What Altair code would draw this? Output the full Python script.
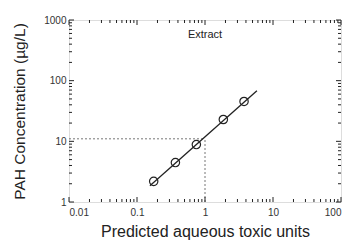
import altair as alt
import pandas as pd

# Data
toxic_units = [0.176, 0.367, 0.746, 1.86, 3.75]
pah_conc = [2.19, 4.47, 8.85, 22.9, 45.4]

fit_x = [0.155, 5.8]
fit_y = [1.85, 68.0]

ref_x = [0.01, 1.0]      # horizontal dashed guide at y=11
ref_y_level = 11.0
x_ticks = [0.01, 0.1, 1, 10, 100]
y_ticks = [1, 10, 100, 1000]

W, H = 272, 182
FONT = "Liberation Sans"

pts = pd.DataFrame({"x": toxic_units, "y": pah_conc})
fit = pd.DataFrame({"x": fit_x, "y": fit_y})
hdash = pd.DataFrame({"x": ref_x, "y": [ref_y_level, ref_y_level]})
vdash = pd.DataFrame({"x": [1.0, 1.0], "y": [1.0, ref_y_level]})

# minor / major tick positions
x_major = x_ticks
x_minor = [m * d for d in [0.01, 0.1, 1, 10] for m in range(2, 10)]
y_major = y_ticks
y_minor = [m * d for d in [1, 10, 100] for m in range(2, 10)]

xs = alt.Scale(type="log", domain=[0.01, 100], nice=False)
ys = alt.Scale(type="log", domain=[1, 1000], nice=False)

xax = alt.Axis(values=x_ticks, format="~g", tickSize=0, domain=False, grid=False,
               labelFont=FONT, labelFontSize=10, labelColor="#333", labelPadding=5,
               title="Predicted aqueous toxic units", titleFont=FONT, titleFontSize=16,
               titleFontWeight="normal", titleColor="#222", titlePadding=6)
yax = alt.Axis(values=y_ticks, format="~g", tickSize=0, domain=False, grid=False,
               labelFont=FONT, labelFontSize=10, labelColor="#333", labelPadding=3,
               title="PAH Concentration (µg/L)", titleFont=FONT, titleFontSize=15.5,
               titleFontWeight="normal", titleColor="#222", titlePadding=16)

base_pts = alt.Chart(pts).mark_point(shape="circle", size=70, filled=False,
                                     stroke="#222", strokeWidth=1.2, opacity=1).encode(
    x=alt.X("x:Q", scale=xs, axis=xax),
    y=alt.Y("y:Q", scale=ys, axis=yax),
)
fit_line = alt.Chart(fit).mark_line(color="#222", strokeWidth=1.3).encode(
    x=alt.X("x:Q", scale=xs), y=alt.Y("y:Q", scale=ys))
hd = alt.Chart(hdash).mark_line(color="#777", strokeWidth=1, strokeDash=[2, 2]).encode(
    x=alt.X("x:Q", scale=xs), y=alt.Y("y:Q", scale=ys))
vd = alt.Chart(vdash).mark_line(color="#777", strokeWidth=1, strokeDash=[2, 2]).encode(
    x=alt.X("x:Q", scale=xs), y=alt.Y("y:Q", scale=ys))


def xticks(vals, length):
    df = pd.DataFrame({"x": vals})
    bottom = alt.Chart(df).mark_rule(color="#222", strokeWidth=1).encode(
        x=alt.X("x:Q", scale=xs), y=alt.value(H), y2=alt.value(H - length))
    top = alt.Chart(df).mark_rule(color="#222", strokeWidth=1).encode(
        x=alt.X("x:Q", scale=xs), y=alt.value(0), y2=alt.value(length))
    return [bottom, top]


def yticks(vals, length):
    df = pd.DataFrame({"y": vals})
    left = alt.Chart(df).mark_rule(color="#222", strokeWidth=1).encode(
        y=alt.Y("y:Q", scale=ys), x=alt.value(0), x2=alt.value(length))
    right = alt.Chart(df).mark_rule(color="#222", strokeWidth=1).encode(
        y=alt.Y("y:Q", scale=ys), x=alt.value(W), x2=alt.value(W - length))
    return [left, right]


label = alt.Chart(pd.DataFrame({"x": [1.0], "y": [560.0], "t": ["Extract"]})).mark_text(
    font=FONT, fontSize=11, color="#222").encode(
    x=alt.X("x:Q", scale=xs), y=alt.Y("y:Q", scale=ys), text="t:N")

layers = [hd, vd, base_pts, fit_line, label] + xticks(x_major, 5) + xticks(x_minor, 3) \
    + yticks(y_major, 5) + yticks(y_minor, 3)

chart = alt.layer(*layers).properties(
    width=W, height=H,
    autosize=alt.AutoSizeParams(type="none"),
    padding={"left": 61, "top": 12, "right": 2, "bottom": 44},
).configure_view(stroke="#222", strokeWidth=1.5).configure(background="white")

chart.save("out.html", embed_options={"renderer": "svg", "actions": False})
